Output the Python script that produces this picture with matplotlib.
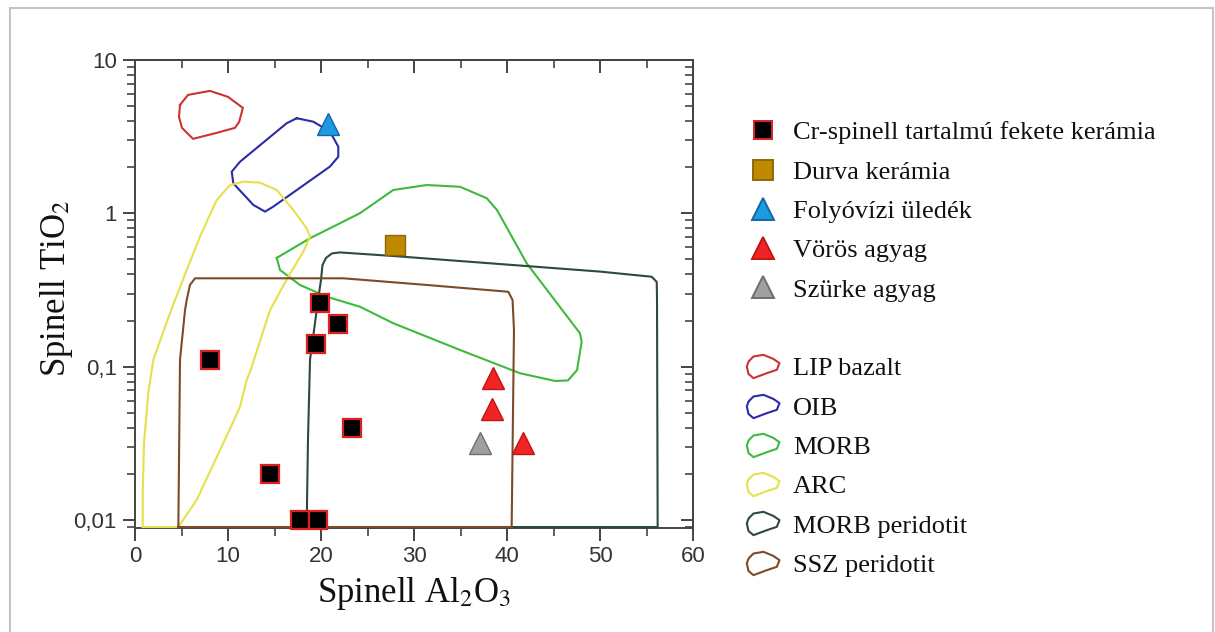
import numpy as np
import matplotlib
matplotlib.use('Agg')
import matplotlib.pyplot as plt
from matplotlib.path import Path
from matplotlib.lines import Line2D
from matplotlib.patches import Rectangle
from matplotlib.ticker import MultipleLocator, FuncFormatter, NullFormatter

plt.rcParams['font.family'] = ['Liberation Sans', 'DejaVu Sans']
plt.rcParams['mathtext.fontset'] = 'stix'

# minták (Al2O3, TiO2)
cr_al = [8.1, 14.5, 17.7, 19.7, 19.9, 21.8, 19.5, 23.3]
cr_ti = [0.11, 0.02, 0.01, 0.01, 0.26, 0.19, 0.14, 0.04]
durva_al = [28.0]
durva_ti = [0.62]
folyo_al = [20.8]
folyo_ti = [3.8]
voros_al = [38.5, 38.4, 41.7]
voros_ti = [0.084, 0.053, 0.032]
szurke_al = [37.1]
szurke_ti = [0.032]

# mezők határai
lip_al = [4.84, 5.70, 8.06, 10.0, 11.6, 11.2, 10.75, 8.8, 6.24, 5.05, 4.73]
lip_ti = [5.09, 5.92, 6.29, 5.75, 4.87, 3.95, 3.61, 3.35, 3.06, 3.61, 4.26]

oib_al = [17.39, 19.17, 20.97, 21.86, 21.86, 20.97, 14.87, 13.98, 12.72, 10.57, 10.40, 11.29, 16.31]
oib_ti = [4.17, 3.96, 3.41, 2.72, 2.34, 2.02, 1.106, 1.026, 1.135, 1.57, 1.87, 2.17, 3.87]

morb_al = [15.24, 18.82, 24.19, 27.77, 31.37, 34.95, 37.82, 38.92, 42.12, 47.85, 48.03, 47.53,
           46.56, 45.16, 41.4, 34.95, 27.77, 24.19, 20.61, 17.74, 15.59]
morb_ti = [0.512, 0.688, 1.002, 1.42, 1.53, 1.49, 1.255, 1.052, 0.472, 0.165, 0.145, 0.095,
           0.0813, 0.0807, 0.0906, 0.1285, 0.192, 0.246, 0.286, 0.341, 0.427]

arc_al = [0.83, 4.66, 6.63, 10.57, 11.29, 12.01, 12.44, 14.52, 16.48, 18.10, 18.82, 18.46, 17.02,
          15.24, 13.44, 11.65, 10.22, 8.78, 6.99, 5.56, 3.76, 1.97, 1.43, 0.97, 0.83]
arc_ti = [0.009, 0.009, 0.0135, 0.0438, 0.0548, 0.0819, 0.0951, 0.234, 0.386, 0.562, 0.705, 0.80, 1.052,
          1.42, 1.585, 1.61, 1.53, 1.22, 0.705, 0.427, 0.223, 0.111, 0.0674, 0.0318, 0.0150]

morbper_al = [18.46, 18.6, 18.82, 19.25, 19.68, 20.0, 20.16, 20.54, 21.18, 22.04, 27.77, 50.0,
              55.56, 56.1, 56.13, 56.2]
morbper_ti = [0.009, 0.0333, 0.111, 0.173, 0.272, 0.368, 0.460, 0.512, 0.548, 0.556, 0.527, 0.417,
              0.386, 0.357, 0.272, 0.009]

ssz_al = [4.66, 4.84, 5.38, 5.56, 5.91, 6.45, 22.4, 31.4, 40.14, 40.6, 40.75, 40.5]
ssz_ti = [0.009, 0.111, 0.234, 0.272, 0.341, 0.377, 0.377, 0.341, 0.308, 0.272, 0.173, 0.009]

mezok = [
    ('LIP bazalt', lip_al, lip_ti, '#cc3333'),
    ('OIB', oib_al, oib_ti, '#2b2ba8'),
    ('MORB', morb_al, morb_ti, '#3dba3d'),
    ('ARC', arc_al, arc_ti, '#e6e04a'),
    ('MORB peridotit', morbper_al, morbper_ti, '#2e4a3a'),
    ('SSZ peridotit', ssz_al, ssz_ti, '#7b4b2a'),
]

mintak = [
    ('Cr-spinell tartalmú fekete kerámia', cr_al, cr_ti, 's', 13, 'black', '#e02020'),
    ('Durva kerámia', durva_al, durva_ti, 's', 15, '#c08a00', '#8a6a10'),
    ('Folyóvízi üledék', folyo_al, folyo_ti, '^', 16, '#1e9be0', '#1565a8'),
    ('Vörös agyag', voros_al, voros_ti, '^', 16, '#f02424', '#c01515'),
    ('Szürke agyag', szurke_al, szurke_ti, '^', 16, '#a0a0a0', '#6e6e6e'),
]

fig = plt.figure(figsize=(12.15, 6.32), dpi=100)
ax = fig.add_axes([135 / 1215, 1 - 528 / 632, 558 / 1215, 468 / 632])

for nev, xs, ys, szin in mezok:
    ax.plot(list(xs) + [xs[0]], list(ys) + [ys[0]], color=szin, lw=1.5,
            solid_joinstyle='round', zorder=3, clip_on=False)

for nev, xs, ys, m, ms, fc, ec in mintak:
    ax.plot(xs, ys, linestyle='none', marker=m, ms=ms, mfc=fc, mec=ec,
            mew=1.6 if m == 's' and fc == 'black' else 1.0, zorder=5, clip_on=False)

ax.set_yscale('log')
ax.set_xlim(0, 60)
ax.set_ylim(0.00887, 10)

ax.xaxis.set_major_locator(MultipleLocator(10))
ax.xaxis.set_minor_locator(MultipleLocator(5))
ylab = {10: '10', 1: '1', 0.1: '0,1', 0.01: '0,01'}
ax.yaxis.set_major_formatter(FuncFormatter(lambda v, p: ylab.get(round(v, 4), '')))
ax.yaxis.set_minor_formatter(NullFormatter())

tc = '#444444'
for s in ax.spines.values():
    s.set_color(tc)
    s.set_linewidth(1.4)
ax.tick_params(which='major', direction='out', length=9, width=1.4, color=tc,
               labelsize=16, labelcolor='#333333', pad=4)
ax.tick_params(which='minor', direction='out', length=5.5, width=1.2, color=tc)

top = ax.secondary_xaxis('top')
top.xaxis.set_major_locator(MultipleLocator(10))
top.xaxis.set_minor_locator(MultipleLocator(5))
top.tick_params(axis='x', which='major', direction='in', length=9, width=1.4, color=tc, labeltop=False)
top.tick_params(axis='x', which='minor', direction='in', length=5.5, width=1.2, color=tc)
top.spines['top'].set_color(tc)
top.spines['top'].set_linewidth(1.4)

right = ax.secondary_yaxis('right')
right.tick_params(axis='y', which='major', direction='in', length=9, width=1.4, color=tc, labelright=False)
right.tick_params(axis='y', which='minor', direction='in', length=5.5, width=1.2, color=tc)
right.yaxis.set_minor_formatter(NullFormatter())
right.spines['right'].set_color(tc)
right.spines['right'].set_linewidth(1.4)

serif = ['Liberation Serif', 'DejaVu Serif']
ax.set_xlabel('Spinell Al$_2$O$_3$', family=serif, fontsize=25, color='#111111')
ax.xaxis.set_label_coords(0.5, -0.1)
ax.set_ylabel('Spinell TiO$_2$', family=serif, fontsize=25, color='#111111')
ax.yaxis.set_label_coords(-0.108, 0.513)

# jelmagyarázat
legopts = dict(loc='upper left', frameon=False, prop={'family': serif, 'size': 19},
               borderpad=0, borderaxespad=0, handlelength=1.2, handletextpad=0.54,
               labelspacing=0.6, labelcolor='#111111')

h1 = [Line2D([], [], linestyle='none', marker=m, ms=ms, mfc=fc, mec=ec, mew=1.4)
      for nev, xs, ys, m, ms, fc, ec in mintak]
leg1 = fig.legend(h1, [t[0] for t in mintak], bbox_to_anchor=(747 / 1215, 1 - 121 / 632), **legopts)

blob = Path([(-0.9, 0.3), (-0.6, 0.6), (0.0, 0.7), (0.6, 0.45), (0.96, 0.2), (0.8, -0.2),
             (0.2, -0.4), (-0.6, -0.7), (-0.9, -0.45), (-1.0, 0.0), (-0.9, 0.3)])
h2 = [Line2D([], [], linestyle='none', marker=blob, ms=24, mfc='none', mec=szin, mew=1.5)
      for nev, xs, ys, szin in mezok]
leg2 = fig.legend(h2, [t[0] for t in mezok], bbox_to_anchor=(747 / 1215, 1 - 357 / 632), **legopts)

fig.patches.append(Rectangle((10 / 1215, -0.1), 1203 / 1215, 1.1 - 8 / 632, transform=fig.transFigure,
                             fill=False, ec='#c4c4c4', lw=1.5))

fig.savefig('out.png', dpi=100)
